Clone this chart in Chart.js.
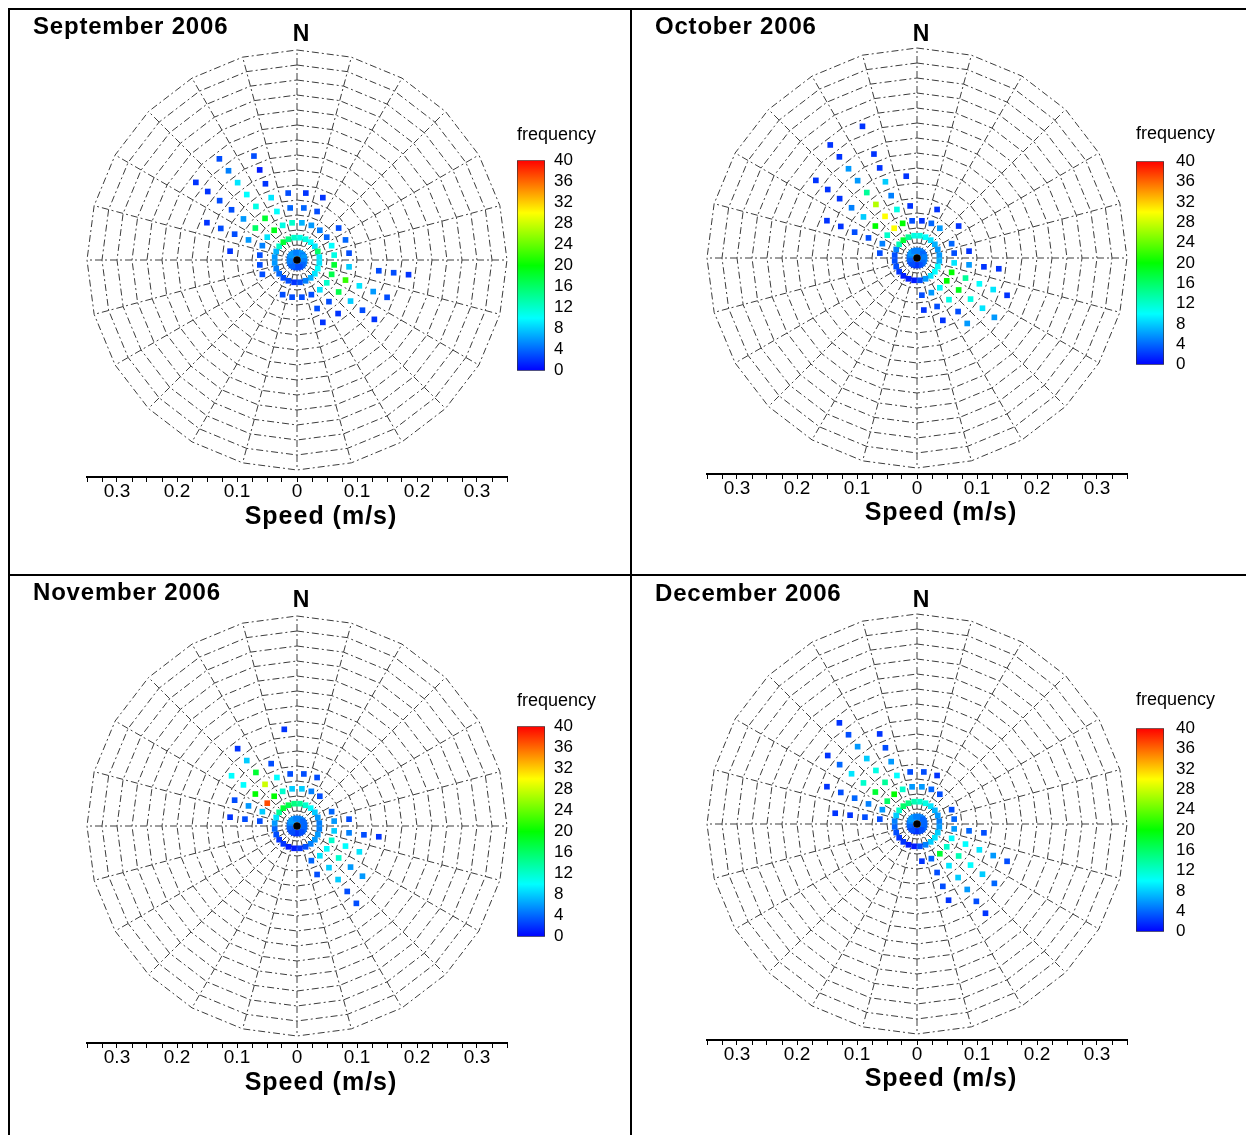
<!DOCTYPE html>
<html><head><meta charset="utf-8">
<script src="https://cdn.jsdelivr.net/npm/chart.js@4"></script>
<style>
html,body{margin:0;padding:0;background:#fff;}
body{width:1246px;height:1135px;position:relative;overflow:hidden;font-family:"Liberation Sans",Arial,sans-serif;color:#000;}
canvas{position:absolute;}
.ln{position:absolute;background:#000;}
.ttl{position:absolute;font-weight:bold;font-size:24px;letter-spacing:0.8px;white-space:nowrap;line-height:24px;}
.north{position:absolute;font-weight:bold;font-size:23px;line-height:23px;width:40px;text-align:center;}
.spd{position:absolute;font-weight:bold;font-size:25px;letter-spacing:1px;line-height:25px;width:240px;text-align:center;white-space:nowrap;}
.freq{position:absolute;font-size:18px;line-height:18px;white-space:nowrap;}
</style>
</head><body>
<script>
// ---------------- DATA ----------------
// direction bin centres (degrees, clockwise from North)
const dirBins = [7.5,22.5,37.5,52.5,67.5,82.5,97.5,112.5,127.5,142.5,157.5,172.5,187.5,202.5,217.5,232.5,247.5,262.5,277.5,292.5,307.5,322.5,337.5,352.5];
// speed bin centres (m/s)
const speedBins = [0.0125,0.0375,0.0625,0.0875,0.1125,0.1375,0.1625,0.1875,0.2125,0.2375];
// frequency per [speed bin][direction bin]; 0 = no observation
const sepFreq = [
 [5,6,6,5,6,6,5,5,4,4,3,3,3,3,4,4,4,5,5,5,6,6,6,5],
 [11,11,10,9,16,9,9,10,9,7,5,3,2,3,3,4,5,6,6,7,12,18,15,12],
 [7,6,5,4,10,11,18,17,12,9,3,3,3,3,0,0,3,3,3,5,9,19,11,12],
 [4,3,0,3,4,3,8,22,17,3,3,0,0,0,0,0,0,0,0,6,16,18,10,4],
 [2,2,0,0,0,0,0,9,8,2,2,0,0,0,0,0,0,0,2,3,6,11,9,3],
 [0,0,0,0,0,0,3,6,3,0,0,0,0,0,0,0,0,0,0,3,3,10,2,0],
 [0,0,0,0,0,0,3,3,2,0,0,0,0,0,0,0,0,0,0,2,3,9,1,0],
 [0,0,0,0,0,0,2,0,0,0,0,0,0,0,0,0,0,0,0,0,2,5,3,0],
 [0,0,0,0,0,0,0,0,0,0,0,0,0,0,0,0,0,0,0,0,2,3,0,0],
 [0,0,0,0,0,0,0,0,0,0,0,0,0,0,0,0,0,0,0,0,0,0,0,0]
];
const octFreq = [
 [4,5,5,4,4,5,5,5,4,4,3,3,2,2,3,3,3,4,4,5,6,6,5,5],
 [11,10,9,7,6,6,7,10,10,9,6,3,1,1,1,2,3,3,3,5,13,18,14,11],
 [2,4,6,0,4,3,9,20,20,10,6,3,0,0,0,0,0,0,3,5,12,30,20,3],
 [0,2,0,2,0,2,6,14,19,11,3,2,0,0,0,0,0,0,0,3,20,30,11,2],
 [0,0,0,0,0,0,2,10,11,3,2,0,0,0,0,0,0,0,0,3,8,27,5,0],
 [0,0,0,0,0,0,2,9,9,6,0,0,0,0,0,0,0,0,0,2,5,14,8,2],
 [0,0,0,0,0,0,0,2,6,0,0,0,0,0,0,0,0,0,0,2,2,6,2,0],
 [0,0,0,0,0,0,0,0,0,0,0,0,0,0,0,0,0,0,0,0,2,6,2,0],
 [0,0,0,0,0,0,0,0,0,0,0,0,0,0,0,0,0,0,0,0,2,2,0,0],
 [0,0,0,0,0,0,0,0,0,0,0,0,0,0,0,0,0,0,0,0,0,2,2,0]
];
const novFreq = [
 [5,5,5,4,4,4,4,4,4,3,3,3,2,2,3,3,3,4,4,5,6,6,6,5],
 [14,12,10,8,6,5,5,6,6,5,3,2,1,1,2,2,3,4,6,9,14,18,17,15],
 [8,5,3,0,4,6,8,12,10,9,4,0,0,0,0,0,0,0,3,8,37,20,12,8],
 [3,3,0,0,0,3,5,10,12,8,3,0,0,0,0,0,0,0,3,6,20,28,10,3],
 [0,0,0,0,0,0,3,9,6,8,0,0,0,0,0,0,0,0,2,3,10,18,3,0],
 [0,0,0,0,0,0,2,0,6,3,0,0,0,0,0,0,0,0,0,0,10,8,0,0],
 [0,0,0,0,0,0,0,0,0,3,0,0,0,0,0,0,0,0,0,0,0,2,0,2],
 [0,0,0,0,0,0,0,0,0,0,0,0,0,0,0,0,0,0,0,0,0,0,0,0],
 [0,0,0,0,0,0,0,0,0,0,0,0,0,0,0,0,0,0,0,0,0,0,0,0],
 [0,0,0,0,0,0,0,0,0,0,0,0,0,0,0,0,0,0,0,0,0,0,0,0]
];
const decFreq = [
 [5,5,5,4,4,4,4,4,4,3,3,3,2,2,3,3,3,4,4,5,6,6,6,5],
 [12,11,9,7,6,5,6,8,9,8,5,3,1,1,2,2,3,4,5,8,12,16,15,13],
 [6,4,3,0,3,4,6,10,12,18,4,2,0,0,0,0,0,0,3,6,16,20,12,6],
 [3,2,0,0,0,0,4,10,13,9,3,0,0,0,0,0,0,0,3,5,18,14,10,3],
 [0,0,0,0,0,0,3,9,10,8,3,0,0,0,0,0,0,0,2,4,12,11,6,0],
 [0,0,0,0,0,0,0,6,8,6,2,0,0,0,0,0,0,0,2,3,9,8,3,0],
 [0,0,0,0,0,0,0,3,4,3,0,0,0,0,0,0,0,0,0,2,4,6,2,0],
 [0,0,0,0,0,0,0,0,0,2,0,0,0,0,0,0,0,0,0,0,2,3,0,0],
 [0,0,0,0,0,0,0,0,0,0,0,0,0,0,0,0,0,0,0,0,0,2,0,0],
 [0,0,0,0,0,0,0,0,0,0,0,0,0,0,0,0,0,0,0,0,0,0,0,0]
];
const panelTitles = ['September 2006','October 2006','November 2006','December 2006'];
const gridRadii = [0.025,0.05,0.075,0.1,0.125,0.15,0.175,0.2,0.225,0.25,0.275,0.3,0.325,0.35];
const gridAngles = [0,15,30,45,60,75,90,105,120,135,150,165,180,195,210,225,240,255,270,285,300,315,330,345];
const freqTicks = [0,4,8,12,16,20,24,28,32,36,40];
const speedMax = 0.35;
const freqMax = 40;

// ---------------- HELPERS ----------------
function jet(v){
  const t = Math.max(0, Math.min(1, v / freqMax)) * 4;
  let r, g, b;
  if (t < 1){ r = 0; g = 255 * t; b = 255; }
  else if (t < 2){ r = 0; g = 255; b = 255 * (2 - t); }
  else if (t < 3){ r = 255 * (t - 2); g = 255; b = 0; }
  else { r = 255; g = 255 * (4 - t); b = 0; }
  return `rgb(${Math.round(r)},${Math.round(g)},${Math.round(b)})`;
}
function polar(dir, s){
  const a = dir * Math.PI / 180;
  return {x: s * Math.sin(a), y: s * Math.cos(a)};
}
function div(cls, text, left, top){
  const d = document.createElement('div');
  d.className = cls; d.textContent = text;
  d.style.left = left + 'px'; d.style.top = top + 'px';
  document.body.appendChild(d); return d;
}
function line(l,t,w,h){
  const d = document.createElement('div'); d.className='ln';
  Object.assign(d.style,{left:l+'px',top:t+'px',width:w+'px',height:h+'px'});
  document.body.appendChild(d);
}
function canvas(l,t,w,h){
  const c = document.createElement('canvas');
  c.width = w; c.height = h;
  Object.assign(c.style,{left:l+'px',top:t+'px',width:w+'px',height:h+'px'});
  document.body.appendChild(c); return c;
}

// ---------------- FRAME ----------------
line(8,8,1238,2);
line(8,8,2,1127);
line(630,8,2,1127);
line(8,574,1238,2);

const PX = 600; // pixels per m/s
const panels = [
  {freq: sepFreq, cx:297, cy:260, axisY:477, tx:33, ty:14, nx:301, ny:22, sy:503, sx:321, cbX:517, cbTop:155, cbBot:376, cbPad:9,  fy:125, fx:517},
  {freq: octFreq, cx:917, cy:258, axisY:474, tx:655, ty:14, nx:921, ny:22, sy:499, sx:941, cbX:1136, cbTop:153, cbBot:373, cbPad:12, fy:124, fx:1136},
  {freq: novFreq, cx:297, cy:826, axisY:1043, tx:33, ty:580, nx:301, ny:588, sy:1069, sx:321, cbX:517, cbTop:721, cbBot:942, cbPad:9, fy:691, fx:517},
  {freq: decFreq, cx:917, cy:824, axisY:1040, tx:655, ty:581, nx:921, ny:588, sy:1065, sx:941, cbX:1136, cbTop:720, cbBot:940, cbPad:12, fy:690, fx:1136}
];

panels.forEach((p, idx) => {
  // ---- wind-rose scatter chart ----
  const half = (p.axisY - p.cy) / PX;
  const left = p.cx - speedMax*PX, right = p.cx + speedMax*PX;
  const top = p.cy - (p.axisY - p.cy);
  const cL = left - 30, cT = top - 12, cW = (right - left) + 60, cH = (p.axisY - top) + 12 + 36;
  const cv = canvas(cL, cT, cW, cH);

  const datasets = [];
  const pts = [], cols = [];
  p.freq.forEach((row, k) => row.forEach((f, j) => {
    if (f > 0){ pts.push(polar(dirBins[j], speedBins[k])); cols.push(jet(f)); }
  }));
  datasets.push({type:'scatter', data: pts, pointStyle:'rect', pointRadius:4, pointHoverRadius:4,
    pointBackgroundColor: cols, pointBorderWidth:0, showLine:false, order:1, clip:false});
  datasets.push({type:'scatter', data:[{x:0,y:0}], pointStyle:'circle', pointRadius:3.6,
    pointBackgroundColor:'#000', pointBorderWidth:0, showLine:false, order:0, clip:false});
  gridRadii.forEach(r => {
    const d = gridAngles.map(a => polar(a, r)); d.push(polar(0, r));
    datasets.push({type:'scatter', data:d, showLine:true, pointRadius:0, borderColor:'#3c3c3c',
      borderWidth:1, borderDash:[7,3,2,3], fill:false, tension:0, order:5, clip:false});
  });
  gridAngles.forEach(a => {
    datasets.push({type:'scatter', data:[{x:0,y:0}, polar(a, speedMax)], showLine:true, pointRadius:0,
      borderColor:'#3c3c3c', borderWidth:1, borderDash:[7,3,2,3], fill:false, order:5, clip:false});
  });

  new Chart(cv, {
    data: {datasets},
    options: {
      responsive:false, animation:false, events:[],
      layout:{autoPadding:false, padding:{left:30, right:30, top:12, bottom:0}},
      plugins:{legend:{display:false}, tooltip:{enabled:false}, title:{display:false}},
      scales:{
        x:{type:'linear', position:'bottom', min:-speedMax, max:speedMax,
          afterFit: s => { s.height = 36; },
          border:{display:true, color:'#000', width:2},
          grid:{drawOnChartArea:false, drawTicks:true, tickLength:5, color:'#000', lineWidth:1},
          ticks:{stepSize:0.025, autoSkip:false, maxRotation:0, padding:-2, color:'#000',
            font:{family:'"Liberation Sans", Arial, sans-serif', size:19},
            callback: v => { const m = Math.round(v*1000); if (m % 100 !== 0) return ''; return m === 0 ? '0' : (Math.abs(m)/1000).toFixed(1); }}
        },
        y:{type:'linear', display:false, min:-half, max:half}
      }
    }
  });

  // ---- colour bar chart ----
  const cbW = 28;
  const ccv = canvas(p.cbX - 2, p.cbTop - 14, cbW + 2 + 48, (p.cbBot - p.cbTop) + 28);
  new Chart(ccv, {
    type:'bar',
    data:{labels:['f'], datasets:[{data:[[0, freqMax]], barPercentage:1, categoryPercentage:1,
      borderColor:'#333', borderWidth:1, borderSkipped:false,
      backgroundColor: ctx => {
        const a = ctx.chart.chartArea; if (!a) return 'blue';
        const g = ctx.chart.ctx.createLinearGradient(0, a.bottom, 0, a.top);
        for (let i = 0; i <= 8; i++) g.addColorStop(i/8, jet(freqMax*i/8));
        return g;
      }}]},
    options:{
      responsive:false, animation:false, events:[],
      layout:{autoPadding:false, padding:{left:2, right:0, top:14, bottom:14}},
      plugins:{legend:{display:false}, tooltip:{enabled:false}},
      scales:{
        x:{display:false, offset:true},
        y:{position:'right', min:0, max:freqMax, afterFit: s => { s.width = 48; },
          afterBuildTicks: s => { s.ticks = freqTicks.map(v => ({value:v})); },
          grid:{display:false, drawTicks:false}, border:{display:false},
          ticks:{autoSkip:false, padding:p.cbPad, color:'#000', font:{family:'"Liberation Sans Narrow", "Liberation Sans", Arial', size:17}}
        }
      }
    }
  });

  div('ttl', panelTitles[idx], p.tx, p.ty);
  div('north', 'N', p.nx - 20, p.ny);
  div('spd', 'Speed (m/s)', p.sx - 120, p.sy);
  div('freq', 'frequency', p.fx, p.fy);
});
</script>
</body></html>
